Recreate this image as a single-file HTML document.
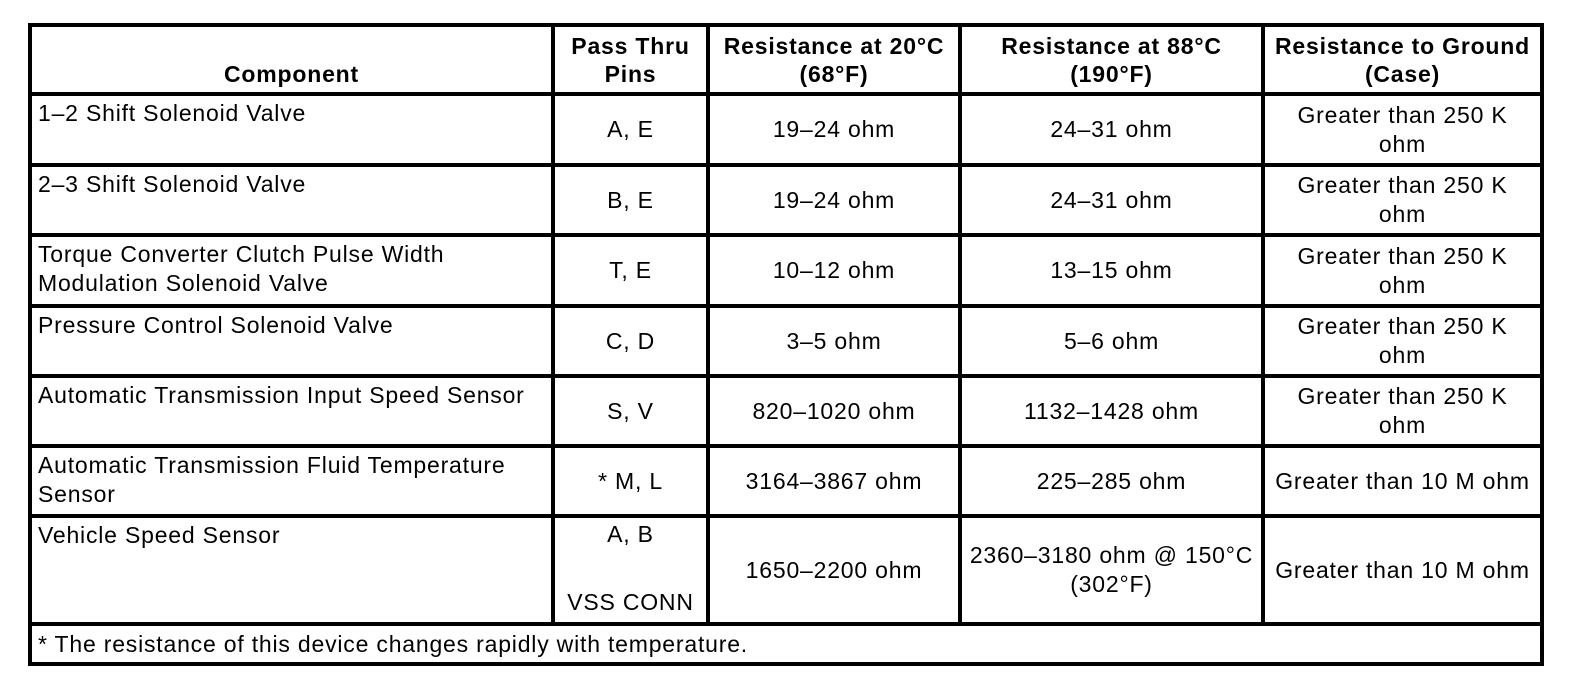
<!DOCTYPE html>
<html><head><style>
html,body{margin:0;padding:0;background:#fff;width:1584px;height:696px;overflow:hidden}
body{position:relative;font-family:"Liberation Sans",Arial,sans-serif;font-size:23px;letter-spacing:0.8px;color:#000}
.h,.v{position:absolute;background:#000}
.c{position:absolute;display:flex;flex-direction:column;justify-content:center;align-items:center;text-align:center;line-height:29px}
.l{align-items:flex-start;justify-content:flex-start;text-align:left;padding-top:3px;padding-left:6px;box-sizing:border-box}
.hd{font-weight:bold;justify-content:flex-end;padding-bottom:4px;box-sizing:border-box;line-height:28px}
</style></head><body>
<!-- horizontal lines -->
<div class="h" style="left:28px;top:23px;width:1516px;height:4px"></div>
<div class="h" style="left:28px;top:92px;width:1516px;height:4px"></div>
<div class="h" style="left:28px;top:163px;width:1516px;height:4px"></div>
<div class="h" style="left:28px;top:233px;width:1516px;height:4px"></div>
<div class="h" style="left:28px;top:304px;width:1516px;height:4px"></div>
<div class="h" style="left:28px;top:374px;width:1516px;height:4px"></div>
<div class="h" style="left:28px;top:444px;width:1516px;height:4px"></div>
<div class="h" style="left:28px;top:514px;width:1516px;height:4px"></div>
<div class="h" style="left:28px;top:622px;width:1516px;height:4px"></div>
<div class="h" style="left:28px;top:662px;width:1516px;height:4px"></div>
<!-- vertical lines -->
<div class="v" style="left:28px;top:23px;width:4px;height:643px"></div>
<div class="v" style="left:1540px;top:23px;width:4px;height:643px"></div>
<div class="v" style="left:551px;top:23px;width:4px;height:603px"></div>
<div class="v" style="left:706px;top:23px;width:4px;height:603px"></div>
<div class="v" style="left:958px;top:23px;width:4px;height:603px"></div>
<div class="v" style="left:1261px;top:23px;width:4px;height:603px"></div>

<!-- header -->
<div class="c hd" style="left:32px;top:27px;width:519px;height:65px">Component</div>
<div class="c hd" style="left:555px;top:27px;width:151px;height:65px">Pass Thru<br>Pins</div>
<div class="c hd" style="left:710px;top:27px;width:248px;height:65px">Resistance at 20°C<br>(68°F)</div>
<div class="c hd" style="left:962px;top:27px;width:299px;height:65px">Resistance at 88°C<br>(190°F)</div>
<div class="c hd" style="left:1265px;top:27px;width:275px;height:65px">Resistance to Ground<br>(Case)</div>

<!-- row 1 -->
<div class="c l" style="left:32px;top:96px;width:519px;height:67px">1–2 Shift Solenoid Valve</div>
<div class="c" style="left:555px;top:96px;width:151px;height:67px">A, E</div>
<div class="c" style="left:710px;top:96px;width:248px;height:67px">19–24 ohm</div>
<div class="c" style="left:962px;top:96px;width:299px;height:67px">24–31 ohm</div>
<div class="c" style="left:1265px;top:96px;width:275px;height:67px">Greater than 250 K<br>ohm</div>
<!-- row 2 -->
<div class="c l" style="left:32px;top:167px;width:519px;height:66px">2–3 Shift Solenoid Valve</div>
<div class="c" style="left:555px;top:167px;width:151px;height:66px">B, E</div>
<div class="c" style="left:710px;top:167px;width:248px;height:66px">19–24 ohm</div>
<div class="c" style="left:962px;top:167px;width:299px;height:66px">24–31 ohm</div>
<div class="c" style="left:1265px;top:167px;width:275px;height:66px">Greater than 250 K<br>ohm</div>
<!-- row 3 -->
<div class="c l" style="left:32px;top:237px;width:519px;height:67px">Torque Converter Clutch Pulse Width<br>Modulation Solenoid Valve</div>
<div class="c" style="left:555px;top:237px;width:151px;height:67px">T, E</div>
<div class="c" style="left:710px;top:237px;width:248px;height:67px">10–12 ohm</div>
<div class="c" style="left:962px;top:237px;width:299px;height:67px">13–15 ohm</div>
<div class="c" style="left:1265px;top:237px;width:275px;height:67px">Greater than 250 K<br>ohm</div>
<!-- row 4 -->
<div class="c l" style="left:32px;top:308px;width:519px;height:66px">Pressure Control Solenoid Valve</div>
<div class="c" style="left:555px;top:308px;width:151px;height:66px">C, D</div>
<div class="c" style="left:710px;top:308px;width:248px;height:66px">3–5 ohm</div>
<div class="c" style="left:962px;top:308px;width:299px;height:66px">5–6 ohm</div>
<div class="c" style="left:1265px;top:308px;width:275px;height:66px">Greater than 250 K<br>ohm</div>
<!-- row 5 -->
<div class="c l" style="left:32px;top:378px;width:519px;height:66px">Automatic Transmission Input Speed Sensor</div>
<div class="c" style="left:555px;top:378px;width:151px;height:66px">S, V</div>
<div class="c" style="left:710px;top:378px;width:248px;height:66px">820–1020 ohm</div>
<div class="c" style="left:962px;top:378px;width:299px;height:66px">1132–1428 ohm</div>
<div class="c" style="left:1265px;top:378px;width:275px;height:66px">Greater than 250 K<br>ohm</div>
<!-- row 6 -->
<div class="c l" style="left:32px;top:448px;width:519px;height:66px">Automatic Transmission Fluid Temperature<br>Sensor</div>
<div class="c" style="left:555px;top:448px;width:151px;height:66px">* M, L</div>
<div class="c" style="left:710px;top:448px;width:248px;height:66px">3164–3867 ohm</div>
<div class="c" style="left:962px;top:448px;width:299px;height:66px">225–285 ohm</div>
<div class="c" style="left:1265px;top:448px;width:275px;height:66px">Greater than 10 M ohm</div>
<!-- row 7 -->
<div class="c l" style="left:32px;top:518px;width:519px;height:104px">Vehicle Speed Sensor</div>
<div class="c" style="left:555px;top:520px;width:151px;height:29px">A, B</div>
<div class="c" style="left:555px;top:588px;width:151px;height:29px">VSS CONN</div>
<div class="c" style="left:710px;top:518px;width:248px;height:104px">1650–2200 ohm</div>
<div class="c" style="left:962px;top:518px;width:299px;height:104px">2360–3180 ohm @ 150°C<br>(302°F)</div>
<div class="c" style="left:1265px;top:518px;width:275px;height:104px">Greater than 10 M ohm</div>
<!-- footer -->
<div class="c" style="left:38px;top:626px;width:1000px;height:36px;align-items:flex-start">* The resistance of this device changes rapidly with temperature.</div>
</body></html>
